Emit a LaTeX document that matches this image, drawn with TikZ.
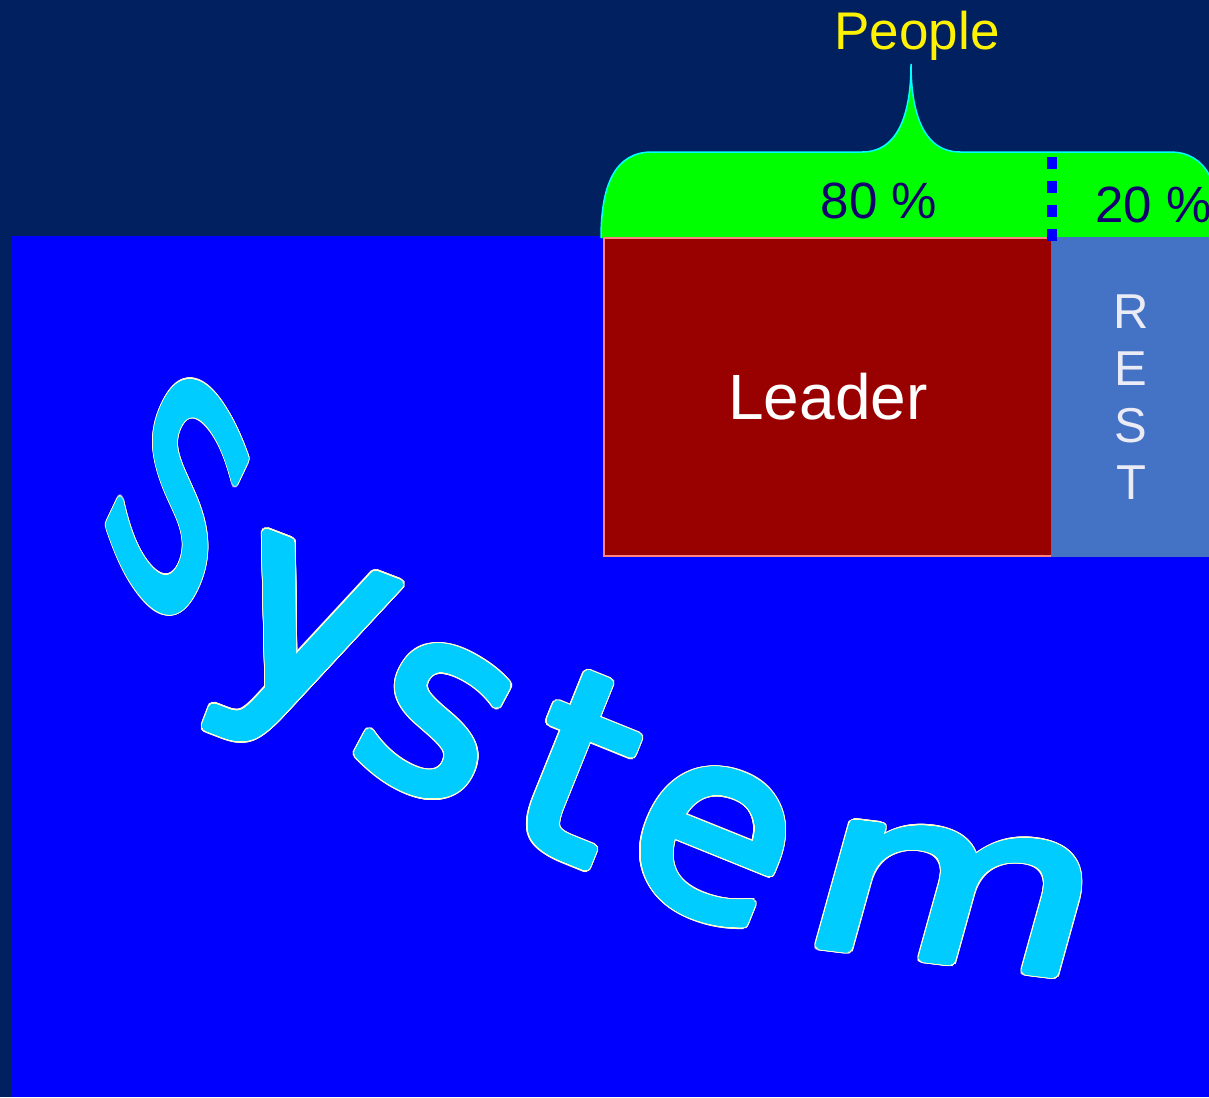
\documentclass[tikz,border=0pt]{standalone}
\usepackage{fontspec}
\setmainfont{Liberation Sans}
\newfontfamily\artfont{DejaVu Sans}
\usepackage{xcolor}
\usepackage{contour}
\contournumber{40}

\definecolor{navybg}{RGB}{0,32,96}
\definecolor{fieldblue}{RGB}{0,0,255}
\definecolor{bracegreen}{RGB}{0,255,0}
\definecolor{braceedge}{RGB}{0,255,255}
\definecolor{pcttext}{RGB}{20,0,110}
\definecolor{leaderred}{RGB}{153,0,0}
\definecolor{leaderedge}{RGB}{255,130,130}
\definecolor{restblue}{RGB}{68,114,196}
\definecolor{resttext}{RGB}{235,235,245}
\definecolor{artfill}{RGB}{0,204,255}
\definecolor{artedge}{RGB}{255,255,210}

% word art glyph: white rim, then a fattened cyan letter on top
\newcommand{\artglyph}[1]{\rlap{\contourlength{5.5pt}\contour{artedge}{#1}}\contourlength{4pt}\contour{artfill}{#1}}

\tikzset{
	box/.style 		= {rectangle, inner sep=0pt, line width=1.5pt},
	pct/.style 		= {inner sep=0pt, text=pcttext, font=\fontsize{51}{51}\selectfont},
	divider/.style 	= {draw=fieldblue, line width=10pt, dash pattern=on 12pt off 12pt},
	letter/.style 	= {inner sep=0pt, text=artfill, font=\artfont\fontsize{255}{255}\selectfont}
}

\begin{document}
\begin{tikzpicture}[x=1pt, y=-1pt]
				%\draw[help lines] (0,0) grid (1209,1097);
				\useasboundingbox (0,0) rectangle (1209,1097);
				\fill[navybg] (0,0) rectangle (1209,1097);
				\fill[fieldblue] (12,236) rectangle (1209,1097);
				
				% brace
				\fill[bracegreen] (601,238) .. controls (601,185) and (615,152) .. (652,152) -- (862,152)
					.. controls (900,152) and (911,110) .. (911,64)
					.. controls (911,110) and (922,152) .. (960,152) -- (1170,152)
					.. controls (1207,152) and (1221,185) .. (1221,238) -- cycle;
				\draw[braceedge, line width=1.5pt] (601,238) .. controls (601,185) and (615,152) .. (652,152) -- (862,152)
					.. controls (900,152) and (911,110) .. (911,64)
					.. controls (911,110) and (922,152) .. (960,152) -- (1170,152)
					.. controls (1207,152) and (1221,185) .. (1221,238);
				
				\node[box, draw=leaderedge, fill=leaderred, minimum width=448pt, minimum height=318pt,
					text=white, font=\fontsize{64}{64}\selectfont] (leader) at (828,397) {Leader};
				\node[box, draw=restblue, fill=restblue, minimum width=158pt, minimum height=318pt,
					align=center, text=resttext, font=\fontsize{49}{57}\selectfont] (rest) at (1131,397) {R\\E\\S\\T};
				
				\coordinate (divtop) at (1052,157);
				\coordinate (divbot) at (1052,241);
				\draw[divider] (divtop) -- (divbot);
				
				\node[anchor=base, inner sep=0pt, text=yellow, font=\fontsize{53}{53}\selectfont] (people) at (917,50) {People};
				\node[pct, anchor=base] (big) at (879,218) {80 \%};
				\node[pct, anchor=base west] (small) at (1095,222) {20 \%};
				
				% word art
				\node[letter, xscale=0.68, yscale=1.2, rotate=-40] (artS) at (178,499) {\artglyph{S}};
				\node[letter, rotate=-21, scale=1.05] (arty) at (296,656) {\artglyph{y}};
				\node[letter, rotate=-28] (arts) at (434,724) {\artglyph{s}};
				\node[letter, rotate=-22] (artt) at (578,770) {\artglyph{t}};
				\node[letter, rotate=-22] (arte) at (711,846) {\artglyph{e}};
				\node[letter, rotate=-7, xslant=0.15, xscale=1.15, yscale=0.9] (artm) at (953,900) {\artglyph{m}};
\end{tikzpicture}
\end{document}
